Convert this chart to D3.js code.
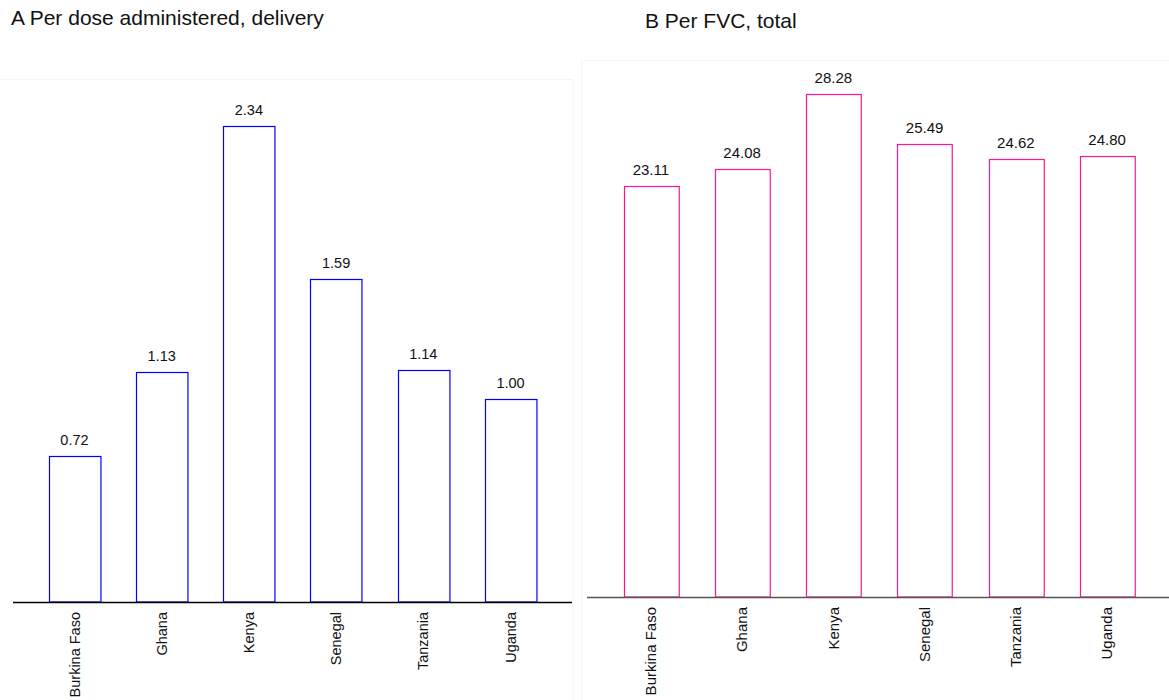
<!DOCTYPE html>
<html>
<head>
<meta charset="utf-8">
<script src="https://cdn.jsdelivr.net/npm/d3@7"></script>
<style>
  html, body { margin: 0; padding: 0; background: #fff; }
  svg { display: block; font-family: "Liberation Sans", Arial, sans-serif; }
</style>
</head>
<body>
<svg id="chart" width="1169" height="700"></svg>
<script>
// Country categories shared by both panels
const countries = ["Burkina Faso", "Ghana", "Kenya", "Senegal", "Tanzania", "Uganda"];

// Panel A: cost per dose administered, delivery
const perDoseDelivery = [0.72, 1.13, 2.34, 1.59, 1.14, 1.00];

// Panel B: cost per fully vaccinated child, total
const perFvcTotal = [23.11, 24.08, 28.28, 25.49, 24.62, 24.80];

const panelTitles = ["A Per dose administered, delivery", "B Per FVC, total"];

const svg = d3.select("#chart");

// Faint plot frames behind each panel
svg.append("rect").attr("x", -10).attr("y", 79.5).attr("width", 583).attr("height", 640)
  .attr("fill", "none").attr("stroke", "#f5f5f5");
svg.append("rect").attr("x", 581.5).attr("y", 60.5).attr("width", 600).attr("height", 660)
  .attr("fill", "none").attr("stroke", "#f5f5f5");

function drawPanel(cfg) {
  const g = svg.append("g");

  const x = d3.scaleBand()
    .domain(countries)
    .range([cfg.x0, cfg.x1])
    .padding(cfg.pad);

  const y = d3.scaleLinear()
    .domain([0, cfg.vmax])
    .range([cfg.base, cfg.top]);

  // Title
  g.append("text")
    .attr("x", cfg.titleX)
    .attr("y", cfg.titleY)
    .attr("font-size", 21)
    .attr("fill", "#111")
    .text(cfg.title);

  const rows = countries.map((c, i) => ({ c, v: cfg.values[i] }));

  // Bars (outlined)
  g.selectAll("rect.bar")
    .data(rows)
    .join("rect")
    .attr("class", "bar")
    .attr("x", d => Math.round(x(d.c)) + 0.5)
    .attr("y", d => Math.round(y(d.v)) + 0.5)
    .attr("width", x.bandwidth())
    .attr("height", d => y(0) - Math.round(y(d.v)) - 0.5)
    .attr("fill", "#fff")
    .attr("stroke", cfg.color)
    .attr("stroke-width", 1.2);

  // Value labels
  g.selectAll("text.val")
    .data(rows)
    .join("text")
    .attr("class", "val")
    .attr("x", d => x(d.c) + x.bandwidth() / 2)
    .attr("y", d => y(d.v) - 11)
    .attr("text-anchor", "middle")
    .attr("font-size", cfg.fs)
    .attr("fill", "#111")
    .text(d => d.v.toFixed(2));

  // Baseline axis with rotated category labels
  const axis = d3.axisBottom(x).tickSize(0).tickPadding(0);
  const ag = g.append("g")
    .attr("transform", `translate(0,${cfg.base})`)
    .call(axis);
  ag.select(".domain")
    .attr("d", `M${cfg.lineX0},0.5H${cfg.lineX1}`)
    .attr("stroke", cfg.axisColor)
    .attr("stroke-width", 1.5);
  ag.selectAll(".tick text")
    .attr("font-size", cfg.fs)
    .attr("font-family", "\"Liberation Sans\", Arial, sans-serif")
    .attr("fill", "#111")
    .attr("text-anchor", "end")
    .attr("transform", "rotate(-90)")
    .attr("x", -10)
    .attr("y", 0)
    .attr("dy", "0.35em");
}

drawPanel({
  title: panelTitles[0], titleX: 11, titleY: 25, fs: 14.5,
  values: perDoseDelivery, vmax: 2.34, color: "#0000ff", axisColor: "#000",
  x0: 13, x1: 572, pad: 0.41, base: 602, top: 126, lineX0: 13, lineX1: 572
});

drawPanel({
  title: panelTitles[1], titleX: 645, titleY: 28, fs: 15,
  values: perFvcTotal, vmax: 28.28, color: "#ff1493", axisColor: "#555",
  x0: 587, x1: 1171, pad: 0.4, base: 597, top: 94.3, lineX0: 587, lineX1: 1169
});
</script>
</body>
</html>
